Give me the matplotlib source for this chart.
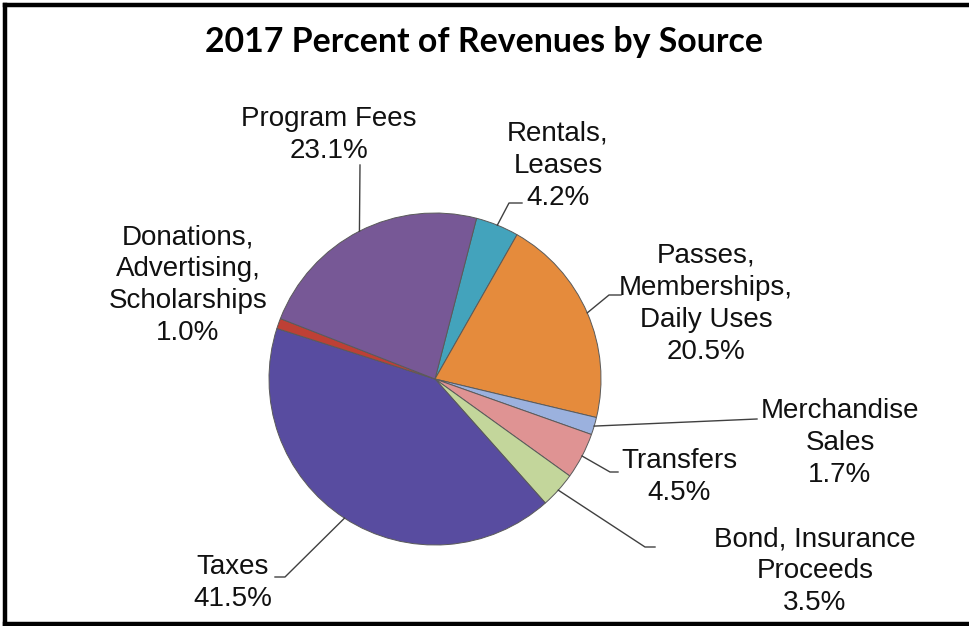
import numpy as np
import matplotlib.pyplot as plt
from matplotlib.lines import Line2D

#%% data (clockwise from the top)
labels = ['Rentals,\nLeases', 'Passes,\nMemberships,\nDaily Uses', 'Merchandise\nSales',
          'Transfers', 'Bond, Insurance\nProceeds', 'Taxes',
          'Donations,\nAdvertising,\nScholarships', 'Program Fees']
shares = [4.2, 20.5, 1.7, 4.5, 3.5, 41.5, 1.0, 23.1]
colors = ['#43A3BC', '#E58B3C', '#9BB1DE', '#DF9393', '#C3D69B', '#584CA0', '#BE4036', '#775896']

#%% layout in pixels (origin top-left)
W, H = 969, 626
cx, cy, rad = 435, 379, 166
start = 75.5

# label centre, and elbow of the leader (None = no leader)
txt_pos = [(558, 166), (706, 304), (840, 443), (679, 477),
           (815, 571), (233, 583), (188, 285), (329, 135)]
elbows = [[(522, 203), (509, 203)], [(621, 295), (609, 295)], [(757, 419)],
          [(618, 472), (610, 472)], [(655, 547), (645, 547)],
          [(275, 577), (285, 577)], None, [(360, 165)]]

fig = plt.figure(figsize=(W / 100, H / 100), dpi=100)
ax = fig.add_axes([0, 0, 1, 1])

def py(y):
    return H - y

wedges, _ = ax.pie(shares, colors=colors, startangle=start, counterclock=False,
                   center=(cx, py(cy)), radius=rad, frame=True,
                   wedgeprops=dict(edgecolor='#5a5a5a', linewidth=0.7))
ax.set_xlim(0, W)
ax.set_ylim(0, H)
ax.set_aspect('equal')
ax.axis('off')

for w, lab, val, (tx, ty), elb in zip(wedges, labels, shares, txt_pos, elbows):
    ax.text(tx, py(ty), f'{lab}\n{val:.1f}%', ha='center', va='center',
            fontsize=20, family='Liberation Sans', color='#111111', linespacing=1.3)
    if elb is None:
        continue
    mid = np.deg2rad((w.theta1 + w.theta2) / 2)
    px, pp = cx + rad * np.cos(mid), py(cy) + rad * np.sin(mid)
    xs = [e[0] for e in elb] + [px]
    ys = [py(e[1]) for e in elb] + [pp]
    ax.plot(xs, ys, color='#404040', lw=1.0)

ax.text(484, py(42), '2017 Percent of Revenues by Source', ha='center', va='center',
        fontsize=24.4, fontweight='bold', family='Lato', color='black')

# frame round the chart area
bx0, by0, by1 = 5, 5, 623.5
for xs, ys in [([bx0, W + 5], [by0, by0]), ([bx0, bx0], [by0, by1]), ([bx0, W + 5], [by1, by1])]:
    fig.add_artist(Line2D([x / W for x in xs], [1 - y / H for y in ys],
                          color='black', lw=3.2, solid_capstyle='projecting'))

fig.savefig('out.png', dpi=100, facecolor='white')
